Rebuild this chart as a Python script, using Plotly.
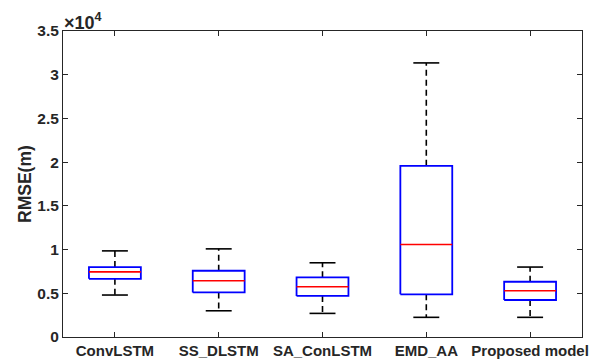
import plotly.graph_objects as go

categories = ["ConvLSTM", "SS_DLSTM", "SA_ConLSTM", "EMD_AA", "Proposed model"]
lower_whisker = [4800, 3000, 2700, 2250, 2250]
q1 = [6650, 5100, 4700, 4880, 4230]
median = [7450, 6430, 5750, 10580, 5290]
q3 = [8000, 7580, 6820, 19580, 6320]
upper_whisker = [9850, 10080, 8490, 31350, 8000]
y_tickvals = [0, 5000, 10000, 15000, 20000, 25000, 30000, 35000]
y_ticktext = ["0", "0.5", "1", "1.5", "2", "2.5", "3", "3.5"]

pos = list(range(1, len(categories) + 1))
bw = 0.25   # half box width
cw = 0.125  # half cap width

bx, by, mx, my, wx, wy, cx, cy = [], [], [], [], [], [], [], []
for p, lw, a, m, b, uw in zip(pos, lower_whisker, q1, median, q3, upper_whisker):
    bx += [p - bw, p + bw, p + bw, p - bw, p - bw, None]
    by += [a, a, b, b, a, None]
    mx += [p - bw, p + bw, None]
    my += [m, m, None]
    wx += [p, p, None, p, p, None]
    wy += [b, uw, None, a, lw, None]
    cx += [p - cw, p + cw, None, p - cw, p + cw, None]
    cy += [uw, uw, None, lw, lw, None]

fig = go.Figure()
fig.add_trace(go.Scatter(x=wx, y=wy, mode="lines", line=dict(color="black", width=1.6, dash="6px,4px"), hoverinfo="skip"))
fig.add_trace(go.Scatter(x=cx, y=cy, mode="lines", line=dict(color="black", width=1.6), hoverinfo="skip"))
fig.add_trace(go.Scatter(x=bx, y=by, mode="lines", line=dict(color="#0000FF", width=1.8), hoverinfo="skip"))
fig.add_trace(go.Scatter(x=mx, y=my, mode="lines", line=dict(color="#FF0000", width=1.6), hoverinfo="skip"))

axis_col = "#262626"
L, R, T, B = 63, 23, 31, 25
pw = 605 - L - R
fig.update_layout(
    width=605, height=362,
    margin=dict(l=L, r=R, t=T, b=B, autoexpand=False),
    paper_bgcolor="white", plot_bgcolor="white",
    showlegend=False,
    font=dict(family="Liberation Sans, Arial, sans-serif", color=axis_col),
    xaxis=dict(
        range=[0.5, len(categories) + 0.5],
        tickvals=pos, ticktext=[f"<b>{c}</b>" for c in categories],
        tickfont=dict(size=15, color=axis_col),
        ticks="inside", ticklen=5, tickcolor=axis_col, tickwidth=1,
        showline=True, linecolor=axis_col, linewidth=1, mirror="ticks",
        showgrid=False, zeroline=False, automargin=False,
    ),
    yaxis=dict(
        range=[0, 35000],
        tickvals=y_tickvals, ticktext=[f"<b>{t}</b>" for t in y_ticktext],
        tickfont=dict(size=15.5, color=axis_col),
        ticks="inside", ticklen=5, tickcolor=axis_col, tickwidth=1,
        showline=True, linecolor=axis_col, linewidth=1, mirror="ticks",
        showgrid=False, zeroline=False, automargin=False,
    ),
    annotations=[
        dict(
            text="<b>×10<sup>4</sup></b>", xref="paper", yref="paper", x=0.0, y=1.0,
            xanchor="left", yanchor="bottom", showarrow=False,
            font=dict(size=18, color=axis_col), yshift=-4, xshift=-1,
        ),
        dict(
            text="<b>RMSE(m)</b>", xref="paper", yref="paper", x=(25 - L) / pw, y=0.5,
            xanchor="center", yanchor="middle", textangle=-90, showarrow=False,
            font=dict(size=17.5, color=axis_col),
        ),
    ],
)

fig.write_html("out.html")
